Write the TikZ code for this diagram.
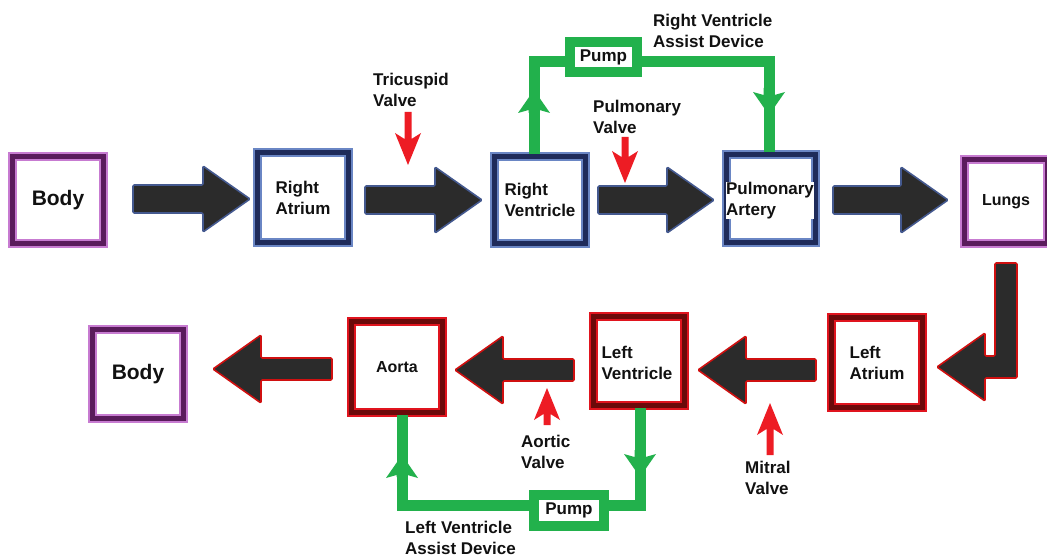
\documentclass[tikz,border=0pt]{standalone}
\usepackage{fontspec}
\setmainfont{Liberation Sans}
\usetikzlibrary{calc}
\definecolor{purD}{HTML}{5A1B5C}
\definecolor{purL}{HTML}{C77BD1}
\definecolor{bluD}{HTML}{1E2B5A}
\definecolor{bluL}{HTML}{6A86C4}
\definecolor{redD}{HTML}{6B0A0A}
\definecolor{redL}{HTML}{E0141E}
\definecolor{arrowfill}{HTML}{2B2B2B}
\definecolor{blueedge}{HTML}{44598F}
\definecolor{rededge}{HTML}{D01010}
\definecolor{gr}{HTML}{22B14C}
\definecolor{valvered}{HTML}{ED1C24}
\definecolor{txt}{HTML}{111111}
\tikzset{
  basebox/.style={rectangle, inner sep=0pt, align=left, text=txt,
    font=\bfseries\fontsize{17}{21}\selectfont, line width=5.5pt},
  pbox/.style={basebox, draw=purD, preaction={draw=purL, line width=9pt}},
  bbox/.style={basebox, draw=bluD, preaction={draw=bluL, line width=9pt}},
  rbox/.style={basebox, draw=redD, preaction={draw=redL, line width=9pt}},
  lbl/.style={inner sep=0pt, align=left, anchor=west, text=txt,
    font=\bfseries\fontsize{17}{21}\selectfont},
  pumpbox/.style={rectangle, draw=gr, line width=10pt, fill=white, inner sep=0pt,
    text=txt, font=\bfseries\fontsize{17}{21}\selectfont},
  gline/.style={draw=gr, line width=11pt, line cap=butt, line join=miter},
  hblock/.style n args={3}{to path={let \p1=(\tikztostart),\p2=(\tikztotarget),
      \n1={(\x2-\x1)/abs(\x2-\x1)} in
      (\x1,\y1+#1) -- (\x2-\n1*#3,\y1+#1) -- (\x2-\n1*#3,\y1+#2) -- (\x2,\y1)
      -- (\x2-\n1*#3,\y1-#2) -- (\x2-\n1*#3,\y1-#1) -- (\x1,\y1-#1) -- cycle}},
  vblock/.style n args={4}{to path={let \p1=(\tikztostart),\p2=(\tikztotarget),
      \n1={(\y2-\y1)/abs(\y2-\y1)} in
      (\x1+#1,\y1) -- (\x1+#1,\y2-\n1*#4) -- (\x1+#2,\y2-\n1*#3) -- (\x1,\y2)
      -- (\x1-#2,\y2-\n1*#3) -- (\x1-#1,\y2-\n1*#4) -- (\x1-#1,\y1) -- cycle}},
  toparrow/.style={hblock={14}{33}{47}, fill=arrowfill, draw=blueedge,
    line width=1.6pt, rounded corners=1.2pt},
  botarrow/.style={hblock={11}{34}{48}, fill=arrowfill, draw=rededge,
    line width=1.6pt, rounded corners=1.2pt},
  valve/.style={vblock={3.5}{13}{32}{26}, fill=valvered, draw=none},
  ghead/.style={vblock={5.5}{16}{23}{20}, fill=gr, draw=none},
}
\begin{document}
\begin{tikzpicture}[x=1pt,y=-1pt]
\useasboundingbox[fill=white] (0,0) rectangle (1047,559);

% boxes, top row
\node[pbox, minimum width=91pt, minimum height=87pt] (body1) at (58,200)
  {\fontsize{21}{25}\selectfont Body};
\node[bbox, minimum width=91pt, minimum height=90pt] (ra) at (303,197.5) {Right\\Atrium};
\node[bbox, minimum width=91pt, minimum height=87pt] (rv) at (540,200) {Right\\Ventricle};
\node[bbox, minimum width=89pt, minimum height=88pt] (pa) at (771,198.5) {};
\node[lbl, anchor=center, fill=white, inner sep=0.5pt] (patxt) at (770,200.5) {Pulmonary\\Artery};
\node[pbox, minimum width=83pt, minimum height=84pt] (lungs) at (1006,201.5)
  {\fontsize{16}{20}\selectfont Lungs};

% boxes, bottom row
\node[pbox, minimum width=91pt, minimum height=89pt] (body2) at (138,374)
  {\fontsize{21}{25}\selectfont Body};
\node[rbox, minimum width=91pt, minimum height=91pt] (aorta) at (397,367)
  {\fontsize{16}{20}\selectfont Aorta};
\node[rbox, minimum width=91pt, minimum height=89pt] (lv) at (639,361) {};
\node[lbl, anchor=center, fill=white, inner sep=1pt] (lvtxt) at (637,362.5) {Left\\Ventricle};
\node[rbox, minimum width=91pt, minimum height=90pt] (la) at (877,362.5) {Left\\Atrium};

% block arrows
\coordinate (a1t) at (133,199); \coordinate (a1h) at (250,199);
\coordinate (a2t) at (365,200); \coordinate (a2h) at (482,200);
\coordinate (a3t) at (598,200); \coordinate (a3h) at (714,200);
\coordinate (a4t) at (833,200); \coordinate (a4h) at (948,200);
\draw[toparrow] (a1t) to (a1h);
\draw[toparrow] (a2t) to (a2h);
\draw[toparrow] (a3t) to (a3h);
\draw[toparrow] (a4t) to (a4h);

\coordinate (b1t) at (332,369); \coordinate (b1h) at (213,369);
\coordinate (b2t) at (574,370); \coordinate (b2h) at (455,370);
\coordinate (b3t) at (816,370); \coordinate (b3h) at (698,370);
\draw[botarrow] (b1t) to (b1h);
\draw[botarrow] (b2t) to (b2h);
\draw[botarrow] (b3t) to (b3h);

% L-shaped arrow from lungs to left atrium
\coordinate (lt) at (1006,263); \coordinate (lh) at (937,367);
\draw[fill=arrowfill, draw=rededge, line width=1.6pt, rounded corners=1.2pt]
  ($(lt)+(-11,0)$) -- ($(lt)+(11,0)$) -- ($(lh)+(80,11)$) -- ($(lh)+(48,11)$)
  -- ($(lh)+(48,34)$) -- (lh) -- ($(lh)+(48,-34)$) -- ($(lh)+(48,-11)$)
  -- ($(lh)+(58,-11)$) -- cycle;

% valves
\coordinate (v1t) at (408,112); \coordinate (v1h) at (408,165);
\coordinate (v2t) at (625,137); \coordinate (v2h) at (625,183);
\coordinate (v3t) at (547,425); \coordinate (v3h) at (547,388);
\coordinate (v4t) at (770,455); \coordinate (v4h) at (770,403);
\draw[valve] (v1t) to (v1h);
\draw[valve] (v2t) to (v2h);
\draw[valve] (v3t) to (v3h);
\draw[valve] (v4t) to (v4h);

\node[lbl] (tric) at (373,90) {Tricuspid\\Valve};
\node[lbl] (pulv) at (593,116.5) {Pulmonary\\Valve};
\node[lbl] (aorv) at (521,452) {Aortic\\Valve};
\node[lbl] (mitv) at (745,477.5) {Mitral\\Valve};

% right ventricle assist device
\node[pumpbox, minimum width=67pt, minimum height=30pt] (pump1) at (603.5,57) {Pump};
\coordinate (gl1) at (534,62); \coordinate (gr1) at (769,62);
\draw[gline] (gl1 |- rv.north) -- (gl1) -- (gl1 -| pump1.west);
\draw[gline] (gr1 -| pump1.east) -- (gr1) -- (gr1 |- pa.north);
\coordinate (gh1b) at (534,113); \coordinate (gh1t) at (534,90);
\coordinate (gh2b) at (769,88); \coordinate (gh2t) at (769,115);
\draw[ghead] (gh1b) to (gh1t);
\draw[ghead] (gh2b) to (gh2t);
\node[lbl] (rvad) at (653,30.5) {Right Ventricle\\Assist Device};

% left ventricle assist device
\node[pumpbox, minimum width=70pt, minimum height=31pt] (pump2) at (569,510.5) {Pump};
\coordinate (gl2) at (402,505); \coordinate (gr2) at (640,505);
\draw[gline] (gl2 |- aorta.south) -- (gl2) -- (gl2 -| pump2.west);
\draw[gline] (gr2 -| pump2.east) -- (gr2) -- (gr2 |- lv.south);
\coordinate (gh3b) at (402,477); \coordinate (gh3t) at (402,455);
\coordinate (gh4b) at (640,450); \coordinate (gh4t) at (640,477);
\draw[ghead] (gh3b) to (gh3t);
\draw[ghead] (gh4b) to (gh4t);
\node[lbl] (lvad) at (405,538) {Left Ventricle\\Assist Device};
\end{tikzpicture}
\end{document}
